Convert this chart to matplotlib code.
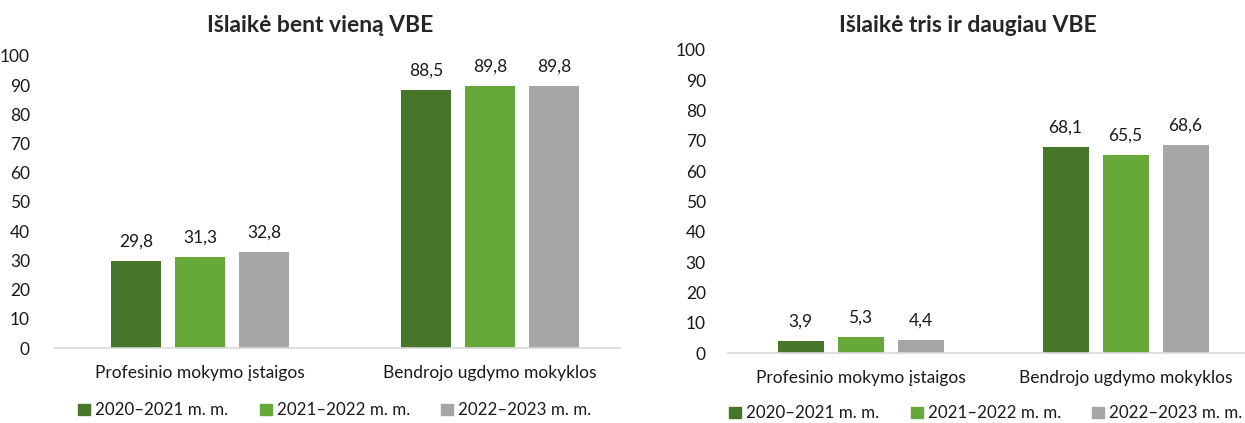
import matplotlib
matplotlib.use('Agg')
import matplotlib.pyplot as plt
from matplotlib.patches import Patch

plt.rcParams['font.family'] = ['Lato', 'DejaVu Sans']

# data
categories = ["Profesinio mokymo įstaigos", "Bendrojo ugdymo mokyklos"]
years = ["2020–2021 m. m.", "2021–2022 m. m.", "2022–2023 m. m."]
bent_viena = [[29.8, 88.5], [31.3, 89.8], [32.8, 89.8]]
trys_daugiau = [[3.9, 68.1], [5.3, 65.5], [4.4, 68.6]]
titles = ["Išlaikė bent vieną VBE", "Išlaikė tris ir daugiau VBE"]

colors = ["#47762A", "#67A83B", "#A6A6A6"]
W, H = 1245, 423
fig = plt.figure(figsize=(W / 100, H / 100), dpi=100)

# axes boxes in pixels: left, bottom, width, height, group spacing px, step px, bar px
boxes = [(55, 75, 565, 292, 290, 64, 50),
         (728, 70, 517, 303, 265, 60, 46)]
legend_y = [2, -1]
xlab_pad = [12, 12]

for k, (data, title) in enumerate(zip([bent_viena, trys_daugiau], titles)):
    l, b, w, h, gs, st, bw = boxes[k]
    ax = fig.add_axes([l / W, b / H, w / W, h / H])
    step = st / gs
    width = bw / gs
    xs = range(len(categories))
    for i, vals in enumerate(data):
        pos = [x + (i - 1) * step for x in xs]
        bars = ax.bar(pos, vals, width=width, color=colors[i], label=years[i])
        for bar, v in zip(bars, vals):
            ax.annotate(f"{v:.1f}".replace(".", ","),
                        (bar.get_x() + bar.get_width() / 2, v),
                        xytext=(0, 8), textcoords="offset points",
                        ha="center", va="bottom", fontsize=12.5, color="#1a1a1a")
    ax.set_xlim(-0.5, -0.5 + w / gs)
    ax.set_ylim(0, 100)
    ax.set_yticks(range(0, 101, 10))
    ax.set_xticks(list(xs))
    ax.set_xticklabels(categories)
    for s in ["top", "right", "left"]:
        ax.spines[s].set_visible(False)
    ax.spines["bottom"].set_color("#D9D9D9")
    ax.spines["bottom"].set_linewidth(1.2)
    ax.tick_params(axis="both", length=0, labelsize=12.5, colors="#1a1a1a")
    ax.tick_params(axis="x", pad=xlab_pad[k])
    ax.tick_params(axis="y", pad=18 if k == 0 else 16)
    for t in ax.get_yticklabels():
        t.set_horizontalalignment("right")
    tx = (320 if k == 0 else 968) / W
    fig.text(tx, 1 - 25 / H, title, ha="center", va="center",
             fontsize=16.5, fontweight="bold", color="#262626")
    handles = [Patch(color=c) for c in colors]
    lx = (73 if k == 0 else 724) / W
    fig.legend(handles, years, loc="lower left", bbox_to_anchor=(lx - 0.008, legend_y[k] / H - 0.03),
               ncol=3, frameon=False, fontsize=12.2, handlelength=0.7, handleheight=0.7,
               handletextpad=0.3, columnspacing=1.85, labelcolor="#1a1a1a")

plt.savefig("out.png", dpi=100)
